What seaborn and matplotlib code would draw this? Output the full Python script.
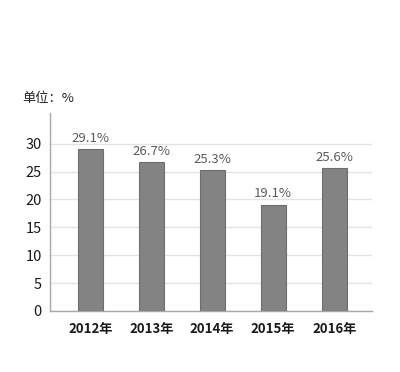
import numpy as np
import pandas as pd
import seaborn as sns
import matplotlib.pyplot as plt

years = ["2012年", "2013年", "2014年", "2015年", "2016年"]
values = [29.1, 26.7, 25.3, 19.1, 25.6]
labels = ["29.1%", "26.7%", "25.3%", "19.1%", "25.6%"]

df = pd.DataFrame({"year": years, "value": values})

sns.set_style("white")
plt.rcParams["font.family"] = ["Noto Sans CJK SC", "DejaVu Sans"]

fig = plt.figure(figsize=(4, 3.72), dpi=100)
ax = fig.add_axes([0.125, 0.164, 0.805, 0.532])

sns.barplot(data=df, x="year", y="value", color="#838383", width=0.41,
            edgecolor="#6e6e6e", linewidth=0.8, saturation=1, ax=ax, zorder=3)

for c in ax.containers:
    ax.bar_label(c, labels=labels, padding=3, fontsize=9.5, color="#5a5a5a")

ax.set_ylim(0, 35.5)
ax.set_xlim(-0.66, 4.62)
ax.set_yticks([0, 5, 10, 15, 20, 25, 30])
ax.yaxis.grid(True, color="#e3e3e3", linewidth=1, zorder=0)
ax.set_axisbelow(True)

for s in ["top", "right"]:
    ax.spines[s].set_visible(False)
for s in ["left", "bottom"]:
    ax.spines[s].set_color("#a8a8a8")
    ax.spines[s].set_linewidth(1)

ax.tick_params(axis="y", length=0, labelsize=10.5, colors="#1a1a1a", pad=6)
ax.tick_params(axis="x", length=0, labelsize=9.5, colors="#1a1a1a", pad=8)
for t in ax.get_xticklabels():
    t.set_fontweight("bold")
ax.set_xlabel("")
ax.set_ylabel("")

fig.text(0.055, 0.725, "单位：%", fontsize=9.5, color="#222222")

fig.savefig("out.png", dpi=100)
